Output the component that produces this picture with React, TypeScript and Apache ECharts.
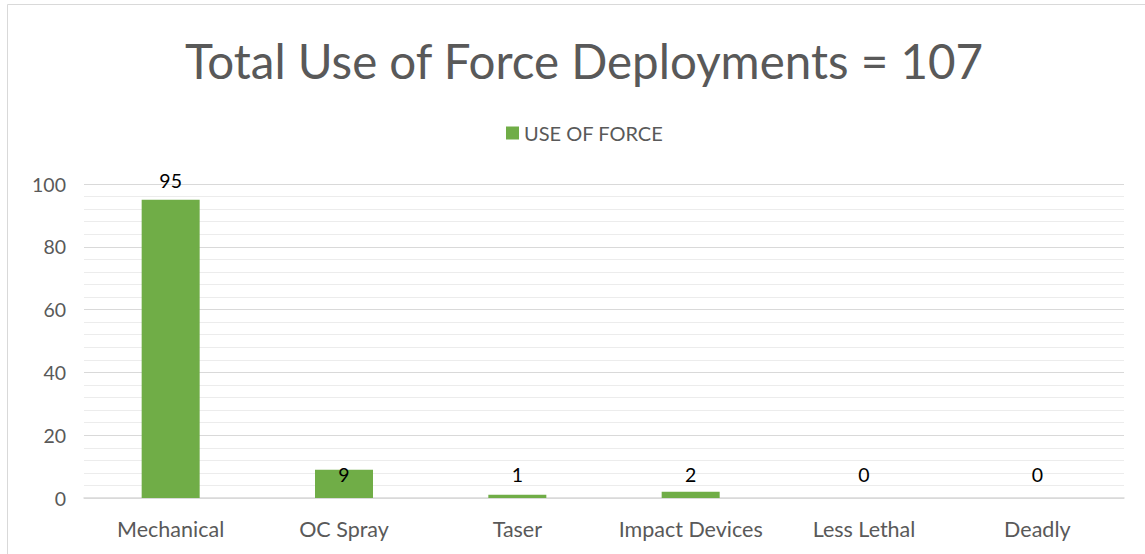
import React, { useEffect, useRef } from "react";
import * as echarts from "echarts";

const categories = ["Mechanical", "OC Spray", "Taser", "Impact Devices", "Less Lethal", "Deadly"];
const useOfForce = [95, 9, 1, 2, 0, 0];
const yTicks = { min: 0, max: 100, interval: 20 };
const titleText = "Total Use of Force Deployments = 107";
const seriesName = "USE OF FORCE";

export default function App() {
  const ref = useRef<HTMLDivElement>(null);
  useEffect(() => {
    if (!ref.current) return;
    const chart = echarts.init(ref.current, undefined, { renderer: "svg" });
    const pxPerUnit = 314 / 100;
    const data = useOfForce.map((v) => {
      const barHeight = v * pxPerUnit;
      // small values share one label row just above the axis; tall bars get the label above
      const rel = barHeight < 40 ? barHeight - 24 : -19;
      return { value: v, label: { position: ["50%", rel] } };
    });
    chart.setOption({
      animation: false,
      textStyle: { fontFamily: "Lato" },
      graphic: [
        {
          type: "rect",
          shape: { x: 7.5, y: 4.5, width: 1200, height: 600 },
          style: { fill: "none", stroke: "#d9d9d9", lineWidth: 1 },
          silent: true,
        },
      ],
      title: {
        text: titleText,
        left: 180,
        top: 31,
        textStyle: { fontFamily: "Lato", fontSize: 47.5, fontWeight: "normal", color: "#595959" },
      },
      legend: {
        top: 118,
        left: 501,
        itemWidth: 13,
        itemHeight: 13,
        itemGap: 8,
        icon: "rect",
        textStyle: { fontFamily: "Lato", fontSize: 20, color: "#595959" },
        data: [seriesName],
      },
      grid: { left: 84, right: 21, top: 184, bottom: 56, containLabel: false },
      xAxis: {
        type: "category",
        data: categories,
        axisLine: { lineStyle: { color: "#d9d9d9", width: 1.5 } },
        axisTick: { show: false },
        axisLabel: { interval: 0, fontFamily: "Lato", fontSize: 21.5, color: "#595959", margin: 20 },
      },
      yAxis: {
        type: "value",
        min: yTicks.min,
        max: yTicks.max,
        interval: yTicks.interval,
        axisLine: { show: false },
        axisTick: { show: false },
        axisLabel: { fontFamily: "Lato", fontSize: 19.5, color: "#595959", margin: 18 },
        splitLine: { lineStyle: { color: "#d9d9d9", width: 1 } },
        minorTick: { show: false, splitNumber: 5 },
        minorSplitLine: { show: true, lineStyle: { color: "#ececec", width: 1 } },
      },
      series: [
        {
          name: seriesName,
          type: "bar",
          data,
          barWidth: 58,
          itemStyle: { color: "#70ad47" },
          label: {
            show: true,
            align: "center",
            verticalAlign: "middle",
            fontFamily: "Lato",
            fontSize: 19.5,
            color: "#000000",
          },
        },
      ],
    });
    return () => chart.dispose();
  }, []);
  return (
    <div
      ref={ref}
      style={{ position: "absolute", left: 0, top: 0, width: 1145, height: 554 }}
    />
  );
}
